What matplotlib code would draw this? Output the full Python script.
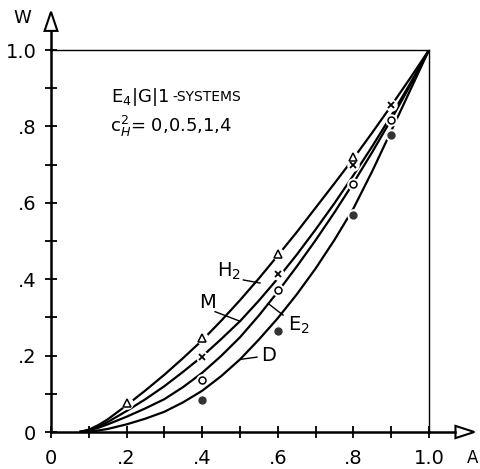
import numpy as np
import matplotlib.pyplot as plt
from matplotlib.patches import Polygon

plt.rcParams['font.family'] = ['DejaVu Sans']

# --- curves (A = load, W = waiting probability) ---
A = [0.075, 0.1, 0.125, 0.15, 0.2, 0.25, 0.3, 0.35, 0.4, 0.45, 0.5,
     0.55, 0.6, 0.65, 0.7, 0.75, 0.8, 0.85, 0.9, 0.95, 1.0]
W_H2 = [0, 0.006, 0.018, 0.033, 0.07, 0.109, 0.15, 0.194, 0.24, 0.291, 0.345,
        0.402, 0.462, 0.523, 0.587, 0.651, 0.716, 0.784, 0.854, 0.926, 1.0]
W_M = [0, 0.005, 0.014, 0.026, 0.055, 0.086, 0.12, 0.158, 0.198, 0.243, 0.29,
       0.344, 0.402, 0.464, 0.53, 0.599, 0.672, 0.748, 0.828, 0.912, 1.0]
W_E2 = [0, 0.004, 0.011, 0.02, 0.04, 0.062, 0.086, 0.118, 0.155, 0.199, 0.248,
        0.305, 0.367, 0.433, 0.502, 0.575, 0.652, 0.733, 0.818, 0.907, 1.0]
W_D = [0, 0.001, 0.004, 0.008, 0.02, 0.035, 0.053, 0.078, 0.108, 0.146, 0.19,
       0.242, 0.298, 0.36, 0.428, 0.503, 0.585, 0.683, 0.788, 0.894, 1.0]

# simulation points
A_tri = [0.2, 0.4, 0.6, 0.8]
W_tri = [0.077, 0.245, 0.466, 0.72]
A_x = [0.4, 0.6, 0.8, 0.9]
W_x = [0.196, 0.414, 0.70, 0.856]
A_o = [0.4, 0.6, 0.8, 0.9]
W_o = [0.136, 0.372, 0.648, 0.817]
A_dot = [0.4, 0.6, 0.8, 0.9]
W_dot = [0.084, 0.264, 0.568, 0.777]

x_ticklabels = ['0', '.2', '.4', '.6', '.8', '1.0']
y_ticklabels = ['0', '.2', '.4', '.6', '.8', '1.0']

fig = plt.figure(figsize=(4.81, 4.69), dpi=100)
ax = fig.add_axes([51 / 481, 37 / 469, 378 / 481, 382 / 469])
ax.set_xlim(0, 1)
ax.set_ylim(0, 1)

# curves
for w in (W_H2, W_M, W_E2, W_D):
    ax.plot(A, w, color='black', lw=1.6, solid_capstyle='butt', zorder=2)

# white halos so the curves break around the points
for xs, ys in ((A_tri, W_tri), (A_x, W_x), (A_o, W_o), (A_dot, W_dot)):
    ax.plot(xs, ys, ls='none', marker='o', ms=9, mfc='white', mec='none', zorder=3)

ax.plot(A_tri, W_tri, ls='none', marker='^', ms=6, mfc='white', mec='black', mew=1.1, zorder=4)
ax.plot(A_x, W_x, ls='none', marker='x', ms=5, mec='black', mew=1.3, zorder=4)
ax.plot(A_o, W_o, ls='none', marker='o', ms=5, mfc='white', mec='black', mew=1.1, zorder=4)
ax.plot(A_dot, W_dot, ls='none', marker='o', ms=5, mfc='#333333', mec='#333333', zorder=4)

# curve labels with leader lines
ax.text(0.47, 0.42, 'H$_2$', fontsize=14, ha='center', va='center')
ax.plot([0.509, 0.553], [0.398, 0.39], color='black', lw=1)
ax.text(0.415, 0.34, 'M', fontsize=14, ha='center', va='center')
ax.plot([0.434, 0.5], [0.315, 0.29], color='black', lw=1)
ax.text(0.655, 0.28, 'E$_2$', fontsize=14, ha='center', va='center')
ax.plot([0.575, 0.614], [0.336, 0.306], color='black', lw=1)
ax.text(0.575, 0.2, 'D', fontsize=14, ha='center', va='center')
ax.plot([0.5, 0.545], [0.19, 0.196], color='black', lw=1)

# legend text
ax.text(0.16, 0.877, 'E$_4$|G|1', fontsize=13, ha='left', va='center')
ax.text(0.322, 0.877, '-SYSTEMS', fontsize=10, ha='left', va='center')
ax.text(0.155, 0.8, 'c$_H^2$= 0,0.5,1,4', fontsize=13, ha='left', va='center')

# frame: thick axes at left/bottom, thin box at top/right
for side in ('top', 'right'):
    ax.spines[side].set_linewidth(1.0)
for side in ('left', 'bottom'):
    ax.spines[side].set_linewidth(1.8)

# arrows beyond the box
ax.plot([1.0, 1.07], [0, 0], color='black', lw=1.8, clip_on=False)
ax.add_patch(Polygon([[1.07, 0.016], [1.12, 0], [1.07, -0.016]], closed=True,
                     fc='white', ec='black', lw=1.5, clip_on=False))
ax.plot([0, 0], [1.0, 1.05], color='black', lw=1.8, clip_on=False)
ax.add_patch(Polygon([[-0.017, 1.05], [0, 1.1], [0.017, 1.05]], closed=True,
                     fc='white', ec='black', lw=1.5, clip_on=False))

ax.set_xticks(np.arange(0, 1.01, 0.2))
ax.set_xticks(np.arange(0.1, 1.0, 0.2), minor=True)
ax.set_yticks(np.arange(0, 1.01, 0.2))
ax.set_yticks(np.arange(0.1, 1.0, 0.2), minor=True)
ax.set_xticklabels(x_ticklabels)
ax.set_yticklabels(y_ticklabels)
ax.tick_params(which='both', direction='inout', length=9, width=1.3,
               labelsize=14, top=False, right=False)
ax.tick_params(axis='x', pad=8)
ax.tick_params(axis='y', pad=6)

ax.text(-0.077, 1.084, 'W', fontsize=13, ha='center', va='center', clip_on=False)
ax.text(1.115, -0.068, 'A', fontsize=12, ha='center', va='center', clip_on=False)

fig.savefig('out.png', dpi=100)
